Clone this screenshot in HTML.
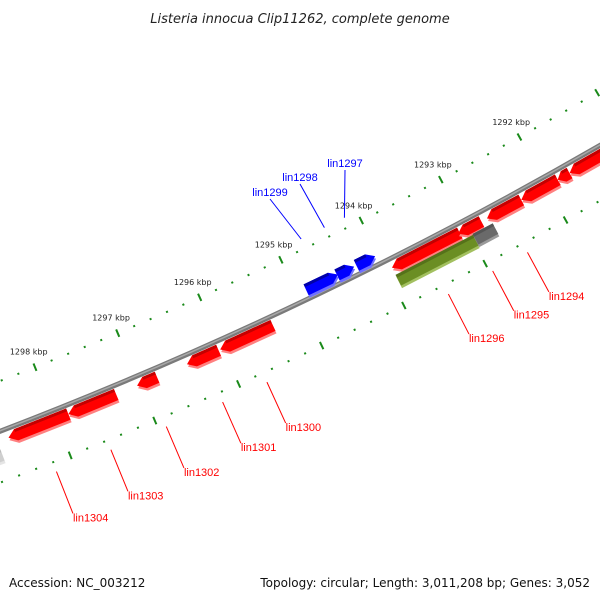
<!DOCTYPE html>
<html><head><meta charset="utf-8"><style>
body{margin:0;background:#fff;}
svg{display:block;font-family:"DejaVu Sans","Liberation Sans",sans-serif;}
</style></head><body>
<svg id="map" width="600" height="600" viewBox="0 0 600 600" xmlns="http://www.w3.org/2000/svg">
<rect width="600" height="600" fill="#fff"/>
<text x="300" y="23" text-anchor="middle" font-size="13" font-style="italic" fill="#222">Listeria innocua Clip11262, complete genome</text>
<text x="9" y="587" font-size="12" fill="#111">Accession: NC_003212</text>
<text x="590" y="587" text-anchor="end" font-size="12" fill="#111">Topology: circular; Length: 3,011,208 bp; Genes: 3,052</text>
<g id="layer"></g>
</svg>
<script>
// genes (kbp)
const geneNames  = ["lin1304","lin1303","lin1302","lin1301","lin1300","lin1296","lin1295","lin1294","","","","","","","lin1299","lin1298","lin1297"];
const geneStarts = [1298.56,1297.85,1297.03,1296.43,1296.03,1293.93,1293.11,1292.75,1292.32,1291.86,1291.71,1293.93,1292.97,1299.02,1294.89,1294.51,1294.27];
const geneEnds   = [1297.85,1297.28,1296.79,1296.05,1295.39,1293.09,1292.82,1292.32,1291.86,1291.71,1291.17,1292.97,1292.72,1298.69,1294.50,1294.30,1294.04];
const geneTypes  = ["rev","rev","rev","rev","rev","rev","rev","rev","rev","rev","rev","green","gray","lgray","fwd","fwd","fwd"];
const majorTicks = [1292,1293,1294,1295,1296,1297,1298];
const tickLabels = ["1292 kbp","1293 kbp","1294 kbp","1295 kbp","1296 kbp","1297 kbp","1298 kbp"];
const blueLabelEnds = [[270,199],[300,184],[345,170]];

const NS="http://www.w3.org/2000/svg";
const layer=document.getElementById('layer');
const CX=-1525, CY=-3541, R=4255;
const DEG0=62.15, DPK=1.218;
function ang(k){return (DEG0+(k-1293)*DPK)*Math.PI/180;}
function pt(k,r){const a=ang(k);return [CX+r*Math.cos(a),CY+r*Math.sin(a)];}
function mk(tag,attrs){const e=document.createElementNS(NS,tag);for(const k in attrs)e.setAttribute(k,attrs[k]);layer.appendChild(e);return e;}
function arcPath(k1,k2,r){const p1=pt(k1,r),p2=pt(k2,r);return `M${p1[0]},${p1[1]} A${r},${r} 0 0 0 ${p2[0]},${p2[1]}`;}

let bb=mk('path',{d:arcPath(1300,1289.5,R),stroke:'#7a7a7a','stroke-width':5,fill:'none'});


let bb2=mk('path',{d:arcPath(1300,1289.5,R-0.5),stroke:'#a8a8a8','stroke-width':1.5,fill:'none'});



const rings=[R-47,R+48];
rings.forEach((rr,ri)=>{
  for(let t=1289.6;t<=1299.4;t+=0.2){
    const k=Math.round(t*10)/10;
    const major=Math.abs(k-Math.round(k))<0.01;
    const h=major?4:1;
    const a=pt(k,rr-h),b=pt(k,rr+h);
    const l=mk('line',{x1:a[0],y1:a[1],x2:b[0],y2:b[1],stroke:'#1a8a1a','stroke-width':2});
    
    
  }
});
majorTicks.forEach((k,i)=>{
  const p=pt(k,R-64);
  const t=mk('text',{x:p[0],y:p[1]+3,'text-anchor':'middle','font-size':8,fill:'#222'});
  t.textContent=tickLabels[i];
  
  
});

const colors={rev:['#ff0000','#c40000','#ff8080'],fwd:['#0000ff','#0000a8','#7070ff'],green:['#6b8e23','#55721a','#a3c060'],gray:['#6a6a6a','#555','#9a9a9a'],lgray:['#cfcfcf','#bbb','#e5e5e5']};
const tracks={rev:[R+3,R+15],fwd:[R-15,R-3],green:[R+17,R+29],gray:[R+16,R+28],lgray:[R+17,R+29]};
function genePoly(k1,k2,r1,r2,type){
  const head=Math.min(0.09,Math.abs(k1-k2)*0.5);
  const rm=(r1+r2)/2;let pts=[];
  if(type==='rev'){
    const b=k1-head;pts=[pt(k1,rm),pt(b,r1),pt(k2,r1),pt(k2,r2),pt(b,r2)];
  }else if(type==='fwd'){
    const b=k2+head;pts=[pt(k1,r1),pt(b,r1),pt(k2,rm),pt(b,r2),pt(k1,r2)];
  }else{pts=[pt(k1,r1),pt(k2,r1),pt(k2,r2),pt(k1,r2)];}
  return pts;
}
function toStr(pts,dx,dy){return pts.map(p=>(p[0]+dx).toFixed(1)+','+(p[1]+dy).toFixed(1)).join(' ');}

geneStarts.forEach((k1,i)=>{
  const k2=geneEnds[i],type=geneTypes[i],c=colors[type],tr=tracks[type];
  const g=document.createElementNS(NS,'g');layer.appendChild(g);
  
  
  const pts=genePoly(k1,k2,tr[0],tr[1],type);
  const sh=document.createElementNS(NS,'polygon');sh.setAttribute('points',toStr(pts,1,2.5));sh.setAttribute('fill',c[2]);g.appendChild(sh);
  const mn=document.createElementNS(NS,'polygon');mn.setAttribute('points',toStr(pts,0,0));mn.setAttribute('fill',c[0]);g.appendChild(mn);
  const head=Math.min(0.09,Math.abs(k1-k2)*0.5);
  const tk1=type==='rev'?k1-head:k1, tk2=type==='fwd'?k2+head:k2;
  const tp=document.createElementNS(NS,'polygon');tp.setAttribute('points',toStr([pt(tk1,tr[0]),pt(tk2,tr[0]),pt(tk2,tr[0]+3),pt(tk1,tr[0]+3)],0,0));tp.setAttribute('fill',c[1]);g.appendChild(tp);
});

let bi=0;
geneStarts.forEach((k1,i)=>{
  const name=geneNames[i];if(!name)return;
  const km=(k1+geneEnds[i])/2;
  if(geneTypes[i]==='rev'){
    const a=pt(km,R+58),b=pt(km,R+103);
    const l=mk('line',{x1:a[0],y1:a[1],x2:b[0],y2:b[1],stroke:'#ff0000','stroke-width':1});
    
    
    const t=mk('text',{x:b[0],y:b[1]+8,'font-size':11,fill:'#ff0000','font-family':'"Liberation Sans",sans-serif'});
    t.textContent=name;
    
    
  }else{
    const a=pt(km,R-57),e=blueLabelEnds[bi++];
    const l=mk('line',{x1:a[0],y1:a[1],x2:e[0],y2:e[1],stroke:'#0000ff','stroke-width':1});
    
    
    const t=mk('text',{x:e[0],y:e[1]-3,'text-anchor':'middle','font-size':11,fill:'#0000ff','font-family':'"Liberation Sans",sans-serif'});
    t.textContent=name;
    
    
  }
});
</script>
</body></html>
